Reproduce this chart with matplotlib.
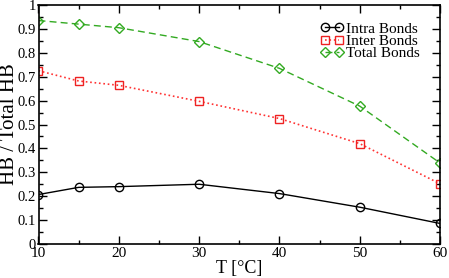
import matplotlib
matplotlib.use("Agg")
import matplotlib.pyplot as plt
from matplotlib.ticker import MultipleLocator

plt.rcParams['font.family'] = ['Liberation Serif', 'DejaVu Serif']

# Temperatures and hydrogen bond fractions
temps = [10, 15, 20, 30, 40, 50, 60]
intra = [0.207, 0.237, 0.240, 0.250, 0.211, 0.154, 0.086]
inter = [0.725, 0.682, 0.664, 0.597, 0.525, 0.420, 0.252]
total = [0.935, 0.920, 0.905, 0.847, 0.735, 0.577, 0.339]
ytick_vals = [0, 0.1, 0.2, 0.3, 0.4, 0.5, 0.6, 0.7, 0.8, 0.9, 1]
ytick_labels = ['0', '0.1', '0.2', '0.3', '0.4', '0.5', '0.6',
                '0.7', '0.8', '0.9', '1']

fig = plt.figure(figsize=(4.49, 2.78), dpi=100)
ax = fig.add_axes([38.5 / 449, 34 / 278, 401.5 / 449, 239 / 278])

ax.plot(temps, intra, color='black', ls='-', lw=1.0, marker='o',
        mfc='none', mec='black', ms=6, mew=1.0, label='Intra Bonds')
ax.plot(temps, inter, color='#ff3333', ls=':', lw=1.2, marker='s',
        mfc='none', mec='#ee2222', ms=5.5, mew=1.0, label='Inter Bonds')
ax.plot(temps, total, color='#33aa22', ls=(0, (5, 3)), lw=1.0, marker='D',
        mfc='none', mec='#33aa22', ms=5, mew=1.0, label='Total Bonds')

ax.set_xlim(10, 60)
ax.set_ylim(0, 1)
ax.xaxis.set_major_locator(MultipleLocator(10))
ax.xaxis.set_minor_locator(MultipleLocator(5))
ax.set_yticks(ytick_vals)
ax.set_yticklabels(ytick_labels)
ax.yaxis.set_minor_locator(MultipleLocator(0.05))
ax.tick_params(which='both', direction='in', top=True, right=True,
               labelsize=10.5, width=1.0, pad=2)
ax.tick_params(axis='x', labelsize=11)
ax.tick_params(which='major', length=6)
ax.tick_params(which='minor', length=3)
for s in ax.spines.values():
    s.set_linewidth(1.2)

ax.set_xlabel('T [°C]', fontsize=13, labelpad=0)
ax.set_ylabel('HB / Total HB', fontsize=15, va='baseline')
ax.yaxis.set_label_coords(-0.062, 0.5)

ax.legend(loc='upper right', frameon=False, fontsize=11, numpoints=2,
          handlelength=1.5, handletextpad=0.15, labelspacing=-0.08,
          bbox_to_anchor=(0.983, 0.987))

fig.savefig('out.png', dpi=100)
